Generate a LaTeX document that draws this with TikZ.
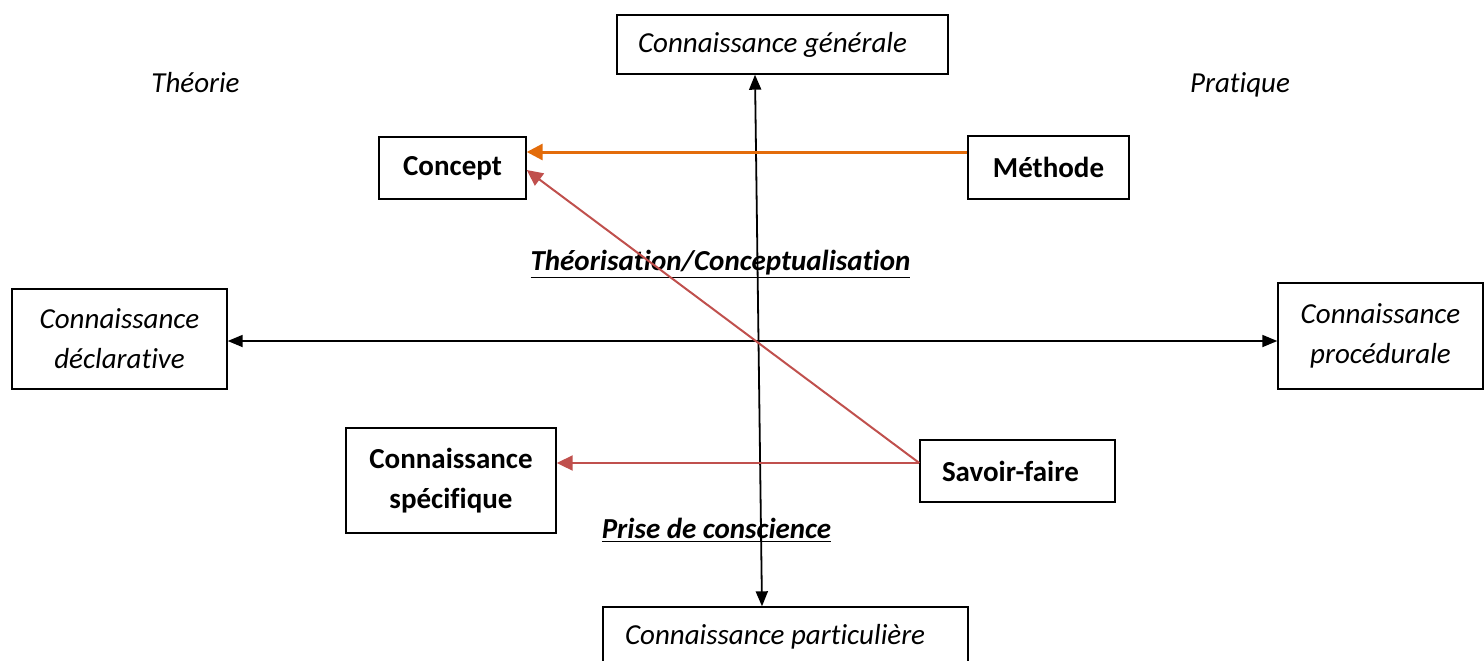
\documentclass[tikz,border=0pt]{standalone}
\usepackage{fontspec}
\setmainfont{Carlito}[Ligatures=NoCommon]
\usetikzlibrary{arrows.meta}
\definecolor{carotte}{HTML}{E36C0A}
\definecolor{brique}{HTML}{C0504D}
\begin{document}
\begin{tikzpicture}[x=0.5pt,y=-0.5pt,>={Triangle[length=7.5pt,width=6pt]},
	ital/.style={font=\fontsize{14.5}{20}\selectfont\itshape},
	gras/.style={font=\fontsize{14.5}{20}\selectfont\bfseries},
	titre/.style={font=\fontsize{14.5}{20}\selectfont\bfseries\itshape,anchor=base},
	boite/.style={draw,line width=0.7pt,inner sep=0pt,align=center},
	gauche/.style={align=flush left,inner xsep=#1,inner ysep=0pt},
	fleche/.style={<->,line width=0.9pt},
	renvoi/.style={-{Triangle[length=8pt,width=7.5pt]},line width=1pt,brique}]
		\useasboundingbox (0,0) rectangle (1484,660);
		\node[boite,ital,gauche=10.5pt,text width=144.5pt,minimum height=29.5pt] (gen) at (782.5,44.5) {Connaissance générale};
		\node[boite,ital,gauche=11pt,text width=160.5pt,minimum height=29.5pt] (part) at (785.5,636.5) {Connaissance particulière};
		\node[boite,ital,minimum width=107.5pt,minimum height=50pt] (decl) at (119.5,339) {Connaissance\\déclarative};
		\node[boite,ital,minimum width=102.5pt,minimum height=53pt] (proc) at (1380.5,336) {Connaissance\\procédurale};
		\node[boite,gras,minimum width=73.5pt,minimum height=31pt] (conc) at (452.5,168) {Concept};
		\node[boite,gras,minimum width=80.5pt,minimum height=31.5pt] (meth) at (1048.5,167.5) {Méthode};
		\node[boite,gras,minimum width=105pt,minimum height=52.5pt] (spec) at (451,480.5) {Connaissance\\spécifique};
		\node[boite,gras,gauche=11pt,text width=75.5pt,minimum height=31pt] (sav) at (1017.5,471) {Savoir-faire};
		\node[ital,anchor=base] (theo) at (195.5,92) {Théorie};
		\node[ital,anchor=base] (prat) at (1240,92) {Pratique};
		\node[titre] (theor) at (720.5,270) {\underline{Théorisation/Conceptualisation}};
		\node[titre] (prise) at (716.5,538) {\underline{Prise de conscience}};
		\draw[fleche] ([xshift=-13.75pt]gen.south) -- ([xshift=-11.75pt]part.north);
		\draw[fleche] ([yshift=-1pt]decl.east) -- ([yshift=-1pt]decl.east -| proc.west);
		\draw[-{Triangle[length=8pt,width=8pt]},line width=1.5pt,carotte] ([yshift=7.75pt]meth.west) -- ([yshift=7.75pt]meth.west -| conc.east);
		\draw[renvoi] ([yshift=4pt]sav.west) -- ([yshift=-1pt]conc.east);
		\draw[renvoi] ([yshift=4pt]sav.west) -- ([yshift=4pt]sav.west -| spec.east);
\end{tikzpicture}
\end{document}
